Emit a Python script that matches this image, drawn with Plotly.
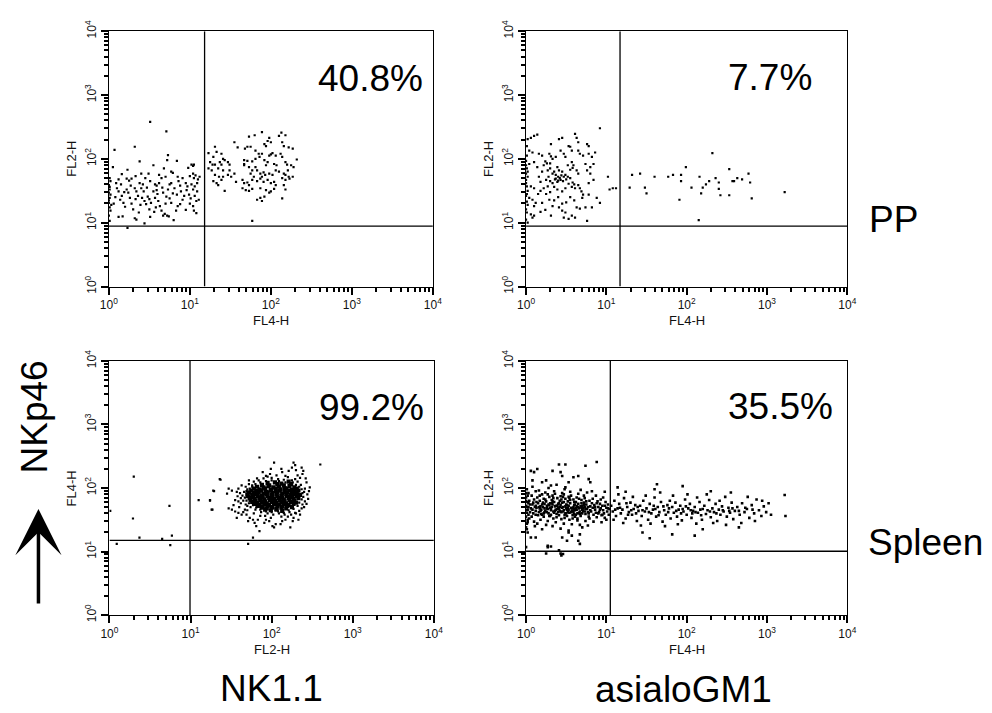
import plotly.graph_objects as go

FONT = "Liberation Sans, Arial, Helvetica, sans-serif"

# ---------------- text / tick data ----------------
tick_values = [1, 10, 100, 1000, 10000]
tick_labels = ["10<sup>0</sup>", "10<sup>1</sup>", "10<sup>2</sup>", "10<sup>3</sup>", "10<sup>4</sup>"]

x_titles = ["FL4-H", "FL4-H", "FL2-H", "FL4-H"]
y_titles = ["FL2-H", "FL2-H", "FL4-H", "FL2-H"]
percent_labels = ["40.8%", "7.7%", "99.2%", "35.5%"]
row_labels = ["PP", "Spleen"]
column_labels = ["NK1.1", "asialoGM1"]
side_label = "NKp46"

# quadrant gates (fluorescence units)
gate_x = [15.2, 14.8, 9.85, 11.2]
gate_y = [8.85, 8.85, 15.0, 10.1]

# ---------------- events, as (log10 x, log10 y) ----------------
pp_nk11_log = [
    (0.51, 2.58), (0.71, 2.43), (0.32, 2.19), (0.07, 2.14), (0.73, 2.06), (0.38, 1.96), (0.55, 1.90), (0.84, 1.97),
    (0.72, 1.98), (1.02, 1.91), (1.05, 1.91), (1.04, 1.89), (0.98, 1.86), (0.05, 1.87), (0.23, 1.83), (0.40, 1.77),
    (0.49, 1.77), (0.68, 1.85), (0.77, 1.80), (0.79, 1.78), (0.16, 1.76),
    (0.22, 1.69), (0.25, 1.66), (0.28, 1.69), (0.38, 1.62), (0.51, 1.65), (0.57, 1.60), (0.59, 1.58), (0.65, 1.70),
    (0.70, 1.72), (0.77, 1.62), (0.75, 1.60), (0.86, 1.65), (0.95, 1.62), (1.04, 1.77), (1.07, 1.74), (1.05, 1.70),
    (1.09, 1.62), (1.06, 1.57), (1.10, 1.68), (1.12, 1.72), (1.00, 1.73), (0.91, 1.70), (0.62, 1.75), (0.45, 1.70),
    (0.33, 1.73), (0.12, 1.68), (0.09, 1.62),
    (0.01, 1.70), (0.02, 1.65), (0.00, 1.59), (0.01, 1.52), (0.00, 1.47), (0.01, 1.39), (0.00, 1.31), (0.01, 1.24),
    (0.02, 1.19), (0.00, 1.11), (0.01, 1.03), (0.02, 1.44), (0.01, 1.56), (0.00, 1.35), (0.03, 1.28),
    (0.10, 1.54), (0.12, 1.49), (0.16, 1.42), (0.14, 1.36), (0.18, 1.31), (0.22, 1.52), (0.24, 1.47), (0.26, 1.39),
    (0.32, 1.54), (0.34, 1.49), (0.36, 1.42), (0.33, 1.37), (0.40, 1.54), (0.43, 1.49), (0.41, 1.39), (0.44, 1.34),
    (0.48, 1.41), (0.50, 1.37), (0.46, 1.29), (0.50, 1.21), (0.55, 1.49), (0.59, 1.51), (0.57, 1.39), (0.61, 1.34),
    (0.63, 1.26), (0.65, 1.19), (0.67, 1.11), (0.69, 1.14), (0.72, 1.11), (0.74, 1.10), (0.71, 1.41), (0.75, 1.38),
    (0.77, 1.31), (0.81, 1.54), (0.84, 1.44), (0.85, 1.26), (0.83, 1.19), (0.89, 1.49), (0.91, 1.36), (0.88, 1.29),
    (0.97, 1.57), (0.99, 1.44), (1.01, 1.38), (1.04, 1.52), (1.06, 1.42), (1.04, 1.26), (1.05, 1.19), (1.09, 1.49),
    (1.11, 1.36), (1.08, 1.34), (0.12, 1.09), (0.17, 1.10), (0.32, 1.07), (0.34, 1.05), (0.44, 0.99), (0.51, 1.09),
    (0.80, 1.04), (0.23, 0.92),
    (0.06, 1.30), (0.08, 1.40), (0.20, 1.25), (0.28, 1.30), (0.30, 1.21), (0.37, 1.16), (0.52, 1.31), (0.58, 1.24),
    (0.60, 1.45), (0.67, 1.47), (0.70, 1.30), (0.79, 1.46), (0.93, 1.42), (0.95, 1.20), (1.00, 1.30), (1.08, 1.15),
    (0.27, 1.58), (0.42, 1.60), (0.47, 1.55), (0.66, 1.55), (0.73, 1.52), (0.88, 1.58), (1.02, 1.60), (0.15, 1.60),
    (0.19, 1.48), (0.39, 1.28), (0.56, 1.17), (0.62, 1.62), (0.85, 1.72), (0.96, 1.51),
    # NK1.1+ events
    (1.89, 2.42), (1.80, 2.37), (1.73, 2.35), (2.13, 2.41), (2.18, 2.37), (2.10, 2.36), (1.98, 2.33), (1.96, 2.28),
    (2.00, 2.26), (1.92, 2.23), (1.94, 2.20), (1.55, 2.26), (1.59, 2.18), (1.31, 2.19), (1.71, 2.19), (1.68, 2.16),
    (1.75, 2.19), (2.14, 2.26), (2.16, 2.20), (2.22, 2.18), (2.27, 2.16), (2.32, 1.99), (1.23, 2.09), (1.33, 2.11),
    (1.39, 2.08), (1.29, 2.03), (1.41, 2.00), (1.81, 2.13), (1.85, 2.08), (1.89, 2.08), (1.86, 2.03), (1.98, 2.05),
    (2.00, 2.07), (2.02, 2.09), (2.06, 2.05), (2.12, 2.08), (2.14, 2.03), (1.67, 1.98), (1.71, 1.97), (1.77, 1.96),
    (1.81, 2.00), (1.92, 1.98), (1.96, 1.95), (1.94, 1.90), (2.04, 1.92), (2.07, 1.90), (2.18, 1.95), (2.20, 1.91),
    (2.25, 1.90), (2.28, 1.87), (1.25, 1.95), (1.28, 1.91), (1.31, 1.91), (1.37, 1.95), (1.39, 1.91), (1.43, 1.98),
    (1.47, 1.95), (1.49, 1.91), (1.23, 1.85), (1.27, 1.82), (1.35, 1.85), (1.41, 1.82), (1.67, 1.92), (1.67, 1.90),
    (1.73, 1.87), (1.77, 1.82), (1.75, 1.77), (1.81, 1.87), (1.83, 1.82), (1.87, 1.77), (1.91, 1.79), (1.89, 1.72),
    (1.93, 1.75), (1.98, 1.77), (2.02, 1.75), (2.06, 1.82), (2.10, 1.80), (2.16, 1.77), (2.18, 1.75), (2.21, 1.82),
    (2.22, 1.72), (2.27, 1.72), (1.31, 1.75), (1.36, 1.72), (1.41, 1.72), (1.47, 1.75), (1.49, 1.82), (1.55, 1.77),
    (1.51, 1.72), (1.29, 1.65), (1.33, 1.62), (1.39, 1.67), (1.35, 1.59), (1.57, 1.64), (1.65, 1.67), (1.67, 1.62),
    (1.71, 1.63), (1.73, 1.59), (1.79, 1.72), (1.77, 1.67), (1.83, 1.65), (1.87, 1.69), (1.91, 1.64), (1.96, 1.67),
    (2.00, 1.62), (2.04, 1.64), (2.06, 1.59), (2.14, 1.70), (2.18, 1.67), (2.23, 1.69), (1.65, 1.54), (1.69, 1.51),
    (1.73, 1.50), (1.77, 1.53), (1.87, 1.54), (1.94, 1.51), (2.00, 1.49), (2.04, 1.53), (2.16, 1.59), (2.18, 1.52),
    (1.43, 1.50), (1.98, 1.47), (1.92, 1.41), (1.87, 1.39), (1.83, 1.36), (1.89, 1.34), (2.14, 1.38), (1.77, 1.03),
]

pp_asialo_log = [
    (0.92, 2.48), (0.14, 2.38), (0.10, 2.36), (0.06, 2.33), (0.02, 2.31), (0.45, 2.33), (0.41, 2.31), (0.31, 2.23),
    (0.61, 2.39), (0.63, 2.33), (0.65, 2.26), (0.76, 2.23), (0.78, 2.20), (0.86, 2.10), (0.53, 2.20), (0.55, 2.19),
    (0.57, 2.13), (0.04, 2.13), (0.08, 2.10), (0.16, 2.08), (0.20, 2.05), (0.29, 2.08), (0.31, 2.04), (0.33, 2.00),
    (0.37, 2.03), (0.43, 2.13), (0.47, 2.08), (0.49, 2.03), (0.65, 2.13), (0.67, 2.08), (0.71, 2.05), (0.78, 2.08),
    (0.82, 2.03), (0.84, 1.92), (0.80, 1.87), (0.00, 1.97), (0.04, 1.92), (0.10, 1.95), (0.14, 1.87), (0.22, 1.90),
    (0.27, 1.82), (0.20, 1.80), (0.39, 1.87), (0.41, 1.82), (0.45, 1.80), (0.49, 1.75), (0.57, 1.95), (0.59, 1.90),
    (0.63, 1.82), (0.65, 1.77), (0.74, 1.92), (0.76, 1.82), (0.80, 1.77), (0.84, 1.67), (0.78, 1.62), (0.00, 1.77),
    (0.02, 1.72), (0.00, 1.67), (0.00, 1.62), (0.06, 1.57), (0.10, 1.54), (0.16, 1.72), (0.18, 1.64), (0.22, 1.54),
    (0.27, 1.57), (0.33, 1.77), (0.37, 1.69), (0.39, 1.64), (0.43, 1.67), (0.47, 1.72), (0.35, 1.56), (0.39, 1.52),
    (0.45, 1.49), (0.49, 1.54), (0.53, 1.61), (0.57, 1.56), (0.61, 1.54), (0.65, 1.59), (0.67, 1.54), (0.69, 1.49),
    (0.71, 1.44), (0.04, 1.39), (0.08, 1.36), (0.12, 1.31), (0.10, 1.26), (0.00, 1.21), (0.06, 1.13), (0.08, 1.08),
    (0.10, 1.11), (0.20, 1.31), (0.29, 1.36), (0.33, 1.26), (0.31, 1.11), (0.41, 1.24), (0.45, 1.19), (0.49, 1.16),
    (0.47, 1.08), (0.53, 1.06), (0.57, 1.11), (0.61, 1.08), (0.76, 1.03), (0.63, 1.24), (0.67, 1.22), (0.74, 1.24),
    (0.82, 1.24), (0.70, 1.39), (0.78, 1.44), (0.88, 1.39), (0.92, 1.31), (1.04, 1.52), (1.08, 1.54), (1.12, 1.54),
    (1.02, 1.72),
    (0.37, 1.75), (0.40, 1.72), (0.42, 1.70), (0.44, 1.74), (0.36, 1.68), (0.40, 1.66), (0.46, 1.65), (0.50, 1.68),
    (0.52, 1.72), (0.55, 1.70), (0.30, 1.65), (0.33, 1.62), (0.25, 1.67), (0.28, 1.72), (0.35, 1.80), (0.30, 1.85),
    (0.24, 1.96), (0.26, 1.93), (0.30, 1.93), (0.55, 1.83), (0.58, 1.86), (0.52, 1.90), (0.60, 1.60), (0.58, 1.63),
    (0.15, 1.45), (0.18, 1.50), (0.25, 1.45), (0.30, 1.48), (0.55, 1.40), (0.60, 1.35), (0.50, 1.32), (0.40, 1.40),
    (0.35, 1.35), (0.45, 1.30), (0.24, 1.20), (0.18, 1.17),
    (0.01, 2.05), (0.01, 1.85), (0.02, 1.80), (0.01, 1.57), (0.02, 1.50), (0.01, 1.45), (0.00, 1.42), (0.01, 1.33),
    (0.02, 1.28), (0.01, 1.16), (0.00, 1.05), (0.02, 1.00), (0.01, 2.20), (0.00, 1.90),
    # asialoGM1+ events
    (1.29, 1.55), (1.32, 1.75), (1.42, 1.77), (1.48, 1.55), (1.50, 1.46), (1.60, 1.72), (1.77, 1.72), (1.83, 1.75),
    (1.93, 1.75), (1.93, 1.65), (1.99, 1.87), (1.91, 1.36), (2.06, 1.55), (2.16, 1.72), (2.20, 1.55), (2.18, 1.46),
    (2.24, 1.60), (2.28, 1.65), (2.32, 2.09), (2.36, 1.70), (2.40, 1.63), (2.40, 1.53), (2.42, 1.43), (2.53, 1.84),
    (2.53, 1.43), (2.57, 1.65), (2.59, 1.65), (2.63, 1.70), (2.69, 1.68), (2.77, 1.77), (2.79, 1.63), (2.81, 1.38),
    (3.22, 1.48), (2.15, 1.04),
]

# dense NK1.1+ core of the spleen sample
spleen_nk11_core_log = [
    (1.95, 2.08), (2.04, 2.09), (2.12, 2.07), (2.21, 2.10),
    (1.88, 2.05), (1.97, 2.04), (2.07, 2.06), (2.15, 2.04), (2.24, 2.06),
    (1.82, 2.02), (1.90, 2.01), (1.96, 2.03), (2.02, 2.01), (2.09, 2.02), (2.16, 2.00), (2.22, 2.03), (2.28, 2.01),
    (1.78, 1.99), (1.85, 1.98), (1.92, 1.99), (1.99, 1.97), (2.05, 1.99), (2.11, 1.98), (2.18, 1.99), (2.25, 1.97), (2.31, 1.99),
    (1.75, 1.96), (1.81, 1.95), (1.87, 1.96), (1.93, 1.94), (1.99, 1.96), (2.05, 1.95), (2.10, 1.96), (2.16, 1.94),
    (2.22, 1.96), (2.28, 1.95), (2.33, 1.96),
    (1.72, 1.93), (1.78, 1.92), (1.84, 1.93), (1.90, 1.91), (1.95, 1.93), (2.01, 1.92), (2.07, 1.93), (2.13, 1.91),
    (2.19, 1.93), (2.25, 1.92), (2.31, 1.93),
    (1.70, 1.90), (1.76, 1.89), (1.82, 1.90), (1.88, 1.88), (1.94, 1.90), (2.00, 1.89), (2.06, 1.90), (2.12, 1.88),
    (2.18, 1.90), (2.24, 1.89), (2.30, 1.90), (2.35, 1.89),
    (1.71, 1.87), (1.77, 1.86), (1.83, 1.87), (1.89, 1.85), (1.95, 1.87), (2.01, 1.86), (2.07, 1.87), (2.13, 1.85),
    (2.19, 1.87), (2.25, 1.86), (2.31, 1.87),
    (1.73, 1.84), (1.79, 1.83), (1.85, 1.84), (1.91, 1.82), (1.97, 1.84), (2.03, 1.83), (2.09, 1.84), (2.15, 1.82),
    (2.21, 1.84), (2.27, 1.83), (2.33, 1.84),
    (1.74, 1.81), (1.80, 1.80), (1.86, 1.81), (1.92, 1.79), (1.98, 1.81), (2.04, 1.80), (2.10, 1.81), (2.16, 1.79),
    (2.22, 1.81), (2.28, 1.80),
    (1.76, 1.78), (1.82, 1.77), (1.88, 1.78), (1.94, 1.76), (2.00, 1.78), (2.06, 1.77), (2.12, 1.78), (2.18, 1.76),
    (2.24, 1.78), (2.30, 1.77),
    (1.79, 1.75), (1.85, 1.74), (1.91, 1.75), (1.97, 1.73), (2.03, 1.75), (2.09, 1.74), (2.15, 1.75), (2.21, 1.73), (2.27, 1.75),
    (1.83, 1.72), (1.89, 1.71), (1.95, 1.72), (2.01, 1.70), (2.07, 1.72), (2.13, 1.71), (2.19, 1.72), (2.25, 1.70),
    (1.88, 1.69), (1.94, 1.68), (2.00, 1.69), (2.06, 1.67), (2.12, 1.69), (2.18, 1.68),
    (1.92, 1.66), (1.99, 1.65), (2.06, 1.66), (2.13, 1.64),
]

spleen_nk11_log = [
    (2.03, 2.40), (2.27, 2.40), (2.29, 2.36), (2.25, 2.32), (2.37, 2.32), (2.39, 2.27), (1.99, 2.30), (1.93, 2.19),
    (1.89, 2.25), (2.13, 2.25), (2.17, 2.19), (2.21, 2.27), (2.43, 2.09), (2.41, 1.99), (2.47, 2.01), (2.39, 1.86),
    (2.41, 1.79), (2.37, 1.68), (1.36, 2.14), (1.28, 1.96), (1.47, 1.99), (1.51, 1.96), (1.45, 1.91), (1.57, 1.94),
    (1.59, 1.99), (1.63, 2.04), (1.55, 1.81), (1.59, 1.79), (1.53, 1.73), (1.47, 1.68), (1.51, 1.66), (1.55, 1.63),
    (1.59, 1.61), (1.63, 1.58), (1.57, 1.53), (1.67, 1.66), (1.69, 1.58), (1.73, 1.53), (1.71, 1.48), (1.77, 1.50),
    (1.79, 1.45), (1.83, 1.50), (1.81, 1.40), (1.91, 1.45), (1.93, 1.50), (1.97, 1.48), (2.03, 1.38), (2.01, 1.40),
    (2.05, 1.43), (2.11, 1.43), (2.13, 1.48), (2.17, 1.50), (2.23, 1.38), (2.27, 1.53), (2.33, 1.50), (2.29, 1.61),
    (2.35, 1.58), (1.85, 1.32), (1.26, 1.66), (1.24, 1.81),
    (1.68, 2.02), (1.72, 2.06), (1.78, 2.10), (1.84, 2.12), (1.90, 2.15), (2.00, 2.16), (2.08, 2.14), (2.15, 2.13),
    (2.25, 2.12), (2.32, 2.10), (2.36, 2.05), (2.40, 1.94), (2.38, 1.74), (2.34, 1.64), (2.30, 1.60), (2.22, 1.62),
    (2.16, 1.58), (2.09, 1.60), (2.02, 1.58), (1.95, 1.60), (1.87, 1.62), (1.80, 1.66), (1.74, 1.70), (1.68, 1.74),
    (1.65, 1.80), (1.64, 1.88), (1.66, 1.94), (1.62, 1.84), (1.70, 1.98), (2.44, 1.90), (2.45, 1.83), (2.42, 2.15),
    (2.32, 2.20), (1.98, 2.22), (2.06, 2.20), (1.76, 2.02), (1.60, 1.70), (1.65, 1.62), (2.20, 1.55), (1.86, 1.56),
    (1.99, 1.53), (2.26, 1.48),
    (1.70, 1.72), (1.69, 1.80), (1.67, 1.85), (1.69, 1.95), (1.73, 1.99), (1.76, 2.04), (1.80, 2.06), (1.86, 2.09),
    (1.93, 2.11), (2.00, 2.12), (2.09, 2.11), (2.17, 2.09), (2.26, 2.09), (2.30, 2.05), (2.34, 2.02), (2.37, 1.98),
    (2.38, 1.92), (2.37, 1.82), (2.34, 1.77), (2.32, 1.72), (2.27, 1.67), (2.21, 1.65), (2.15, 1.61), (2.08, 1.63),
    (2.00, 1.62), (1.93, 1.63), (1.86, 1.66), (1.81, 1.69), (1.77, 1.73), (1.72, 1.76), (2.29, 2.14), (2.35, 2.16),
    (2.20, 2.17), (1.95, 2.18), (1.82, 2.15), (1.72, 2.12), (1.61, 1.92), (1.58, 1.87), (1.62, 1.76), (1.70, 1.65),
    (1.78, 1.60), (1.92, 1.56), (2.12, 1.55), (2.24, 1.58), (2.40, 1.70), (2.43, 1.75), (2.46, 1.95), (2.38, 2.22),
    (2.12, 2.30), (2.30, 2.28),
    (0.01, 1.64), (0.09, 1.12), (0.30, 2.18), (0.29, 1.52), (0.37, 1.22), (0.65, 1.20), (0.74, 1.72), (0.77, 1.25),
    (0.75, 1.10), (1.71, 1.12), (1.77, 1.22), (1.85, 2.48), (1.10, 1.81), (1.24, 1.80), (1.27, 1.66), (1.37, 2.13),
    (1.29, 1.95), (2.60, 2.37),
]

spleen_asialo_log = [
    (0.88, 2.41), (0.41, 2.37), (0.49, 2.37), (0.14, 2.30), (0.06, 2.27), (0.10, 2.25), (0.33, 2.27), (0.43, 2.25),
    (0.45, 2.19), (0.74, 2.35), (0.59, 2.17), (0.65, 2.19), (0.78, 2.14), (0.80, 2.09), (0.20, 2.09), (0.25, 2.12),
    (0.31, 2.04), (0.08, 2.12), (0.53, 2.09), (0.49, 2.01), (0.98, 1.94), (1.14, 2.01), (1.24, 1.94),
    (0.27, 1.07), (0.31, 1.08), (0.41, 1.02), (0.44, 0.94), (0.46, 0.96), (0.25, 0.97), (0.43, 0.97), (0.00, 1.07),
    (0.06, 1.22), (0.12, 1.22), (0.27, 1.09), (0.45, 1.22), (0.51, 1.17), (0.53, 1.30), (0.57, 1.25), (0.67, 1.27),
    (0.65, 1.17), (0.67, 1.12),
    (0.00, 1.85), (0.01, 1.78), (0.00, 1.72), (0.02, 1.66), (0.01, 1.61), (0.00, 1.55), (0.02, 1.50), (0.01, 1.44),
    (0.00, 1.38), (0.03, 1.70), (0.04, 1.80), (0.05, 1.62), (0.03, 1.92), (0.01, 1.98), (0.02, 1.30), (0.04, 1.52),
    (0.07, 1.88), (0.08, 1.74), (0.06, 1.68), (0.09, 1.60), (0.10, 1.82), (0.11, 1.70), (0.12, 1.64), (0.07, 1.55),
    (0.10, 1.47), (0.12, 1.95), (0.08, 2.02), (0.11, 1.40), (0.09, 1.77), (0.12, 1.72),
    (0.14, 1.85), (0.15, 1.76), (0.13, 1.69), (0.16, 1.62), (0.17, 1.80), (0.18, 1.71), (0.19, 1.66), (0.15, 1.57),
    (0.18, 1.50), (0.20, 1.90), (0.16, 1.96), (0.14, 1.44), (0.20, 1.74), (0.19, 1.59), (0.17, 1.68), (0.13, 1.78),
    (0.20, 1.35),
    (0.22, 1.83), (0.23, 1.75), (0.21, 1.70), (0.24, 1.64), (0.25, 1.79), (0.26, 1.72), (0.27, 1.67), (0.28, 1.60),
    (0.22, 1.55), (0.29, 1.86), (0.30, 1.76), (0.24, 1.93), (0.27, 1.48), (0.30, 1.69), (0.23, 1.68), (0.26, 1.62),
    (0.29, 1.73), (0.28, 2.00), (0.25, 1.42), (0.30, 1.56),
    (0.32, 1.81), (0.33, 1.74), (0.31, 1.68), (0.34, 1.63), (0.35, 1.78), (0.36, 1.71), (0.37, 1.66), (0.38, 1.59),
    (0.33, 1.88), (0.39, 1.84), (0.40, 1.75), (0.34, 1.52), (0.37, 1.46), (0.40, 1.69), (0.32, 1.70), (0.36, 1.64),
    (0.39, 1.72), (0.35, 1.95), (0.38, 2.05), (0.31, 1.58), (0.40, 1.62), (0.33, 1.40),
    (0.42, 1.80), (0.43, 1.73), (0.41, 1.67), (0.44, 1.62), (0.45, 1.77), (0.46, 1.70), (0.47, 1.65), (0.48, 1.58),
    (0.43, 1.87), (0.49, 1.83), (0.50, 1.74), (0.44, 1.51), (0.47, 1.44), (0.50, 1.68), (0.42, 1.70), (0.46, 1.63),
    (0.49, 1.71), (0.45, 1.92), (0.48, 1.98), (0.41, 1.57), (0.50, 1.60), (0.43, 1.36), (0.47, 1.90),
    (0.52, 1.79), (0.53, 1.72), (0.51, 1.66), (0.54, 1.61), (0.55, 1.76), (0.56, 1.69), (0.57, 1.64), (0.58, 1.57),
    (0.53, 1.86), (0.59, 1.82), (0.60, 1.73), (0.54, 1.50), (0.57, 1.43), (0.60, 1.67), (0.52, 1.69), (0.56, 1.62),
    (0.59, 1.70), (0.55, 1.94), (0.58, 1.52), (0.51, 1.56), (0.60, 1.59), (0.53, 1.33),
    (0.62, 1.78), (0.63, 1.71), (0.61, 1.65), (0.64, 1.60), (0.65, 1.75), (0.66, 1.68), (0.67, 1.63), (0.68, 1.56),
    (0.63, 1.85), (0.69, 1.81), (0.70, 1.72), (0.64, 1.49), (0.67, 1.42), (0.70, 1.66), (0.62, 1.68), (0.66, 1.61),
    (0.69, 1.69), (0.65, 1.91), (0.68, 1.97), (0.61, 1.55), (0.70, 1.38),
    (0.72, 1.77), (0.73, 1.70), (0.71, 1.64), (0.74, 1.59), (0.75, 1.74), (0.76, 1.67), (0.77, 1.62), (0.78, 1.55),
    (0.73, 1.84), (0.79, 1.80), (0.80, 1.71), (0.74, 1.48), (0.77, 1.41), (0.80, 1.65), (0.72, 1.88), (0.76, 1.93),
    (0.79, 1.52),
    (0.82, 1.76), (0.83, 1.69), (0.81, 1.63), (0.84, 1.58), (0.85, 1.73), (0.86, 1.66), (0.87, 1.61), (0.88, 1.54),
    (0.83, 1.83), (0.89, 1.79), (0.90, 1.70), (0.84, 1.47), (0.87, 1.88), (0.90, 1.60), (0.82, 1.95),
    (0.92, 1.75), (0.93, 1.68), (0.91, 1.62), (0.94, 1.57), (0.95, 1.72), (0.96, 1.65), (0.97, 1.60), (0.98, 1.53),
    (0.93, 1.82), (0.99, 1.78), (1.00, 1.69), (0.94, 1.46), (1.01, 1.63), (1.02, 1.74), (1.03, 1.58), (1.04, 1.67),
    (0.96, 1.85), (1.00, 1.50),
    (0.16, 1.70), (0.18, 1.64), (0.21, 1.77), (0.23, 1.62), (0.26, 1.68), (0.28, 1.74), (0.31, 1.65), (0.33, 1.79),
    (0.35, 1.61), (0.37, 1.72), (0.39, 1.67), (0.41, 1.76), (0.43, 1.63), (0.45, 1.69), (0.47, 1.78), (0.49, 1.60),
    (0.51, 1.73), (0.53, 1.66), (0.55, 1.81), (0.57, 1.68), (0.59, 1.62), (0.61, 1.74), (0.63, 1.66), (0.65, 1.70),
    (0.67, 1.59), (0.69, 1.76), (0.71, 1.68), (0.73, 1.63), (0.75, 1.79), (0.77, 1.70), (0.20, 1.58), (0.24, 1.82),
    (0.29, 1.56), (0.34, 1.84), (0.38, 1.54), (0.44, 1.82), (0.48, 1.53), (0.54, 1.84), (0.58, 1.64), (0.62, 1.58),
    (0.66, 1.83), (0.70, 1.60), (0.74, 1.67), (0.17, 1.88), (0.27, 1.90), (0.36, 1.91), (0.46, 1.86), (0.56, 1.88),
    (0.64, 1.52), (0.72, 1.73), (0.12, 1.58), (0.08, 1.66), (0.05, 1.74), (0.03, 1.58), (0.02, 1.88), (0.00, 1.65),
    (0.01, 1.70), (0.00, 1.92), (0.02, 1.46), (0.01, 1.35), (0.00, 1.80), (0.03, 1.76), (0.22, 1.60), (0.32, 1.76),
    (0.42, 1.64), (0.52, 1.62), (0.60, 1.78), (0.68, 1.71), (0.78, 1.60), (0.86, 1.70), (0.92, 1.66), (0.98, 1.72),
    (0.88, 1.76), (0.95, 1.58), (1.02, 1.68),
    # asialoGM1+ events
    (1.06, 1.72), (1.08, 1.63), (1.10, 1.80), (1.12, 1.56), (1.14, 1.68), (1.16, 1.75), (1.18, 1.60), (1.20, 1.66),
    (1.22, 1.84), (1.24, 1.52), (1.26, 1.70), (1.28, 1.62), (1.30, 1.77), (1.32, 1.58), (1.34, 1.67), (1.36, 1.73),
    (1.38, 1.48), (1.40, 1.64), (1.09, 1.50), (1.15, 1.90), (1.21, 1.45), (1.27, 1.58), (1.33, 1.86), (1.39, 1.70),
    (1.11, 1.66), (1.17, 1.69), (1.25, 1.76), (1.31, 1.65), (1.37, 1.60),
    (1.42, 1.72), (1.44, 1.56), (1.46, 1.80), (1.48, 1.63), (1.50, 1.68), (1.52, 1.50), (1.54, 1.75), (1.56, 1.60),
    (1.58, 1.66), (1.60, 1.85), (1.62, 1.55), (1.64, 1.70), (1.66, 1.62), (1.68, 1.78), (1.70, 1.47), (1.72, 1.65),
    (1.74, 1.58), (1.76, 1.73), (1.78, 1.68), (1.80, 1.52), (1.43, 1.41), (1.49, 1.88), (1.55, 1.44), (1.61, 1.67),
    (1.67, 1.93), (1.73, 1.40), (1.79, 1.80), (1.45, 1.65), (1.53, 1.62), (1.59, 1.72), (1.65, 1.57), (1.71, 1.71),
    (1.77, 1.62),
    (1.82, 1.70), (1.84, 1.61), (1.86, 1.77), (1.88, 1.55), (1.90, 1.66), (1.92, 1.72), (1.94, 1.49), (1.96, 1.63),
    (1.98, 1.82), (2.00, 1.58), (2.02, 1.68), (2.04, 1.75), (2.06, 1.53), (2.08, 1.64), (2.10, 1.70), (2.12, 1.44),
    (2.14, 1.61), (2.16, 1.78), (2.18, 1.57), (2.20, 1.67), (1.83, 1.88), (1.89, 1.43), (1.95, 1.67), (2.01, 1.90),
    (2.07, 1.60), (2.13, 1.85), (2.19, 1.50), (1.87, 1.64), (1.93, 1.60), (1.99, 1.71), (2.05, 1.65), (2.11, 1.62),
    (2.17, 1.66),
    (2.22, 1.72), (2.24, 1.59), (2.26, 1.65), (2.28, 1.81), (2.30, 1.54), (2.32, 1.68), (2.34, 1.62), (2.36, 1.75),
    (2.38, 1.48), (2.40, 1.66), (2.42, 1.58), (2.44, 1.71), (2.46, 1.63), (2.48, 1.86), (2.50, 1.55), (2.52, 1.69),
    (2.54, 1.61), (2.56, 1.77), (2.58, 1.51), (2.60, 1.64), (2.25, 1.90), (2.33, 1.45), (2.41, 1.80), (2.49, 1.42),
    (2.57, 1.68), (2.29, 1.63), (2.37, 1.60), (2.45, 1.65), (2.53, 1.64),
    (2.63, 1.70), (2.66, 1.58), (2.69, 1.76), (2.72, 1.62), (2.75, 1.67), (2.78, 1.53), (2.81, 1.73), (2.84, 1.60),
    (2.87, 1.82), (2.90, 1.65), (2.93, 1.56), (2.96, 1.71), (2.99, 1.62), (3.02, 1.76), (3.05, 1.58), (2.68, 1.45),
    (2.76, 1.86), (2.85, 1.48), (2.94, 1.80), (2.65, 1.64), (2.73, 1.69), (2.82, 1.66),
    (1.63, 2.06), (1.95, 2.03), (3.22, 1.89), (3.23, 1.56), (1.54, 1.21), (1.82, 1.27), (2.10, 1.25), (1.60, 1.98),
    (2.30, 1.95), (2.55, 1.93), (1.45, 1.30), (2.20, 1.35), (2.65, 1.38),
]

panel_events = [pp_nk11_log, pp_asialo_log, spleen_nk11_log, spleen_asialo_log]
panel_dot_size = [2.2, 2.2, 2.2, 2.6]

# ---------------- layout geometry ----------------
W, H = 992, 713
x_domains = [[101.7 / W, 431.7 / W], [526.6 / W, 853.8 / W], [102.3 / W, 432.7 / W], [526.6 / W, 853.8 / W]]
y_domains = [[1 - 282.7 / H, 1 - 20.7 / H], [1 - 282.7 / H, 1 - 20.7 / H],
             [1 - 619.7 / H, 1 - 359.0 / H], [1 - 619.7 / H, 1 - 359.0 / H]]

fig = go.Figure()


def ax_ids(i):
    return ("x" if i == 0 else f"x{i+1}"), ("y" if i == 0 else f"y{i+1}")


for i, events in enumerate(panel_events):
    xa, ya = ax_ids(i)
    fig.add_trace(go.Scatter(
        x=[10 ** a for a, b in events], y=[10 ** b for a, b in events],
        mode="markers",
        marker=dict(symbol="square", size=panel_dot_size[i], color="black", line=dict(width=0)),
        xaxis=xa, yaxis=ya, hoverinfo="skip", showlegend=False))
    if i == 2:
        fig.add_trace(go.Scatter(
            x=[10 ** a for a, b in spleen_nk11_core_log], y=[10 ** b for a, b in spleen_nk11_core_log],
            mode="markers", marker=dict(symbol="square", size=4.2, color="black", line=dict(width=0)),
            xaxis=xa, yaxis=ya, hoverinfo="skip", showlegend=False))
    # quadrant gates
    fig.add_trace(go.Scatter(x=[gate_x[i], gate_x[i]], y=[tick_values[0], tick_values[-1]], mode="lines",
                             line=dict(color="black", width=1.3), xaxis=xa, yaxis=ya,
                             hoverinfo="skip", showlegend=False))
    fig.add_trace(go.Scatter(x=[tick_values[0], tick_values[-1]], y=[gate_y[i], gate_y[i]], mode="lines",
                             line=dict(color="black", width=1.3), xaxis=xa, yaxis=ya,
                             hoverinfo="skip", showlegend=False))

tick_font = dict(family=FONT, size=12, color="#111")


def make_axis(domain, anchor, is_y):
    d = dict(
        type="log", range=[0, 4], domain=domain, anchor=anchor,
        tickmode="array", tickvals=tick_values, ticktext=tick_labels,
        ticks="outside", ticklen=7, tickwidth=2, tickcolor="#000000",
        showline=True, linecolor="black", linewidth=1.3, mirror=True,
        gridcolor="white", tickfont=tick_font,
        minor=dict(dtick="D1", ticks="outside", ticklen=4, tickwidth=1.6, tickcolor="#000000"),
    )
    if is_y:
        d["tickangle"] = -90
    return d


layout_axes = {}
annotations = []
for i in range(4):
    xa, ya = ax_ids(i)
    xname = "xaxis" if i == 0 else f"xaxis{i+1}"
    yname = "yaxis" if i == 0 else f"yaxis{i+1}"
    layout_axes[xname] = make_axis(x_domains[i], ya, False)
    layout_axes[yname] = make_axis(y_domains[i], xa, True)
    annotations.append(dict(text=x_titles[i], xref=f"{xa} domain", yref=f"{ya} domain", x=0.5, y=0,
                            yshift=-34, xanchor="center", yanchor="middle", showarrow=False,
                            font=dict(family=FONT, size=13, color="#111")))
    annotations.append(dict(text=y_titles[i], xref=f"{xa} domain", yref=f"{ya} domain", x=0, y=0.5,
                            xshift=-37, xanchor="center", yanchor="middle", showarrow=False, textangle=-90,
                            font=dict(family=FONT, size=13, color="#111")))

big = dict(family=FONT, size=37, color="black")
pct_pos = [(368.3, 68.8), (775.0, 68.3), (369.7, 406.7), (786.0, 405.5)]
for (px, py), t in zip(pct_pos, percent_labels):
    annotations.append(dict(text=t, xref="paper", yref="paper", x=px / W, y=1 - py / H,
                            xanchor="center", yanchor="middle", showarrow=False, font=big))

annotations.append(dict(text=row_labels[0], xref="paper", yref="paper", x=874.0 / W, y=1 - 214 / H,
                        xanchor="left", yanchor="middle", showarrow=False, font=big))
annotations.append(dict(text=row_labels[1], xref="paper", yref="paper", x=873.0 / W, y=1 - 545 / H,
                        xanchor="left", yanchor="middle", showarrow=False, font=big))
annotations.append(dict(text=column_labels[0], xref="paper", yref="paper", x=267.5 / W, y=1 - 695 / H,
                        xanchor="center", yanchor="middle", showarrow=False, font=big))
annotations.append(dict(text=column_labels[1], xref="paper", yref="paper", x=686.5 / W, y=1 - 696 / H,
                        xanchor="center", yanchor="middle", showarrow=False, font=big))
annotations.append(dict(text=side_label, xref="paper", yref="paper", x=26 / W, y=1 - 416.5 / H,
                        xanchor="center", yanchor="middle", showarrow=False, textangle=-90, font=big))
# upward arrow next to the NKp46 label
annotations.append(dict(text="", xref="paper", yref="paper", x=30 / W, y=1 - 511 / H, ax=0, ay=96,
                        showarrow=True, arrowhead=3, arrowsize=2.2, arrowwidth=3.5, arrowcolor="black",
                        standoff=0, startstandoff=0))

fig.update_layout(
    width=W, height=H, autosize=False,
    margin=dict(l=0, r=0, t=0, b=0),
    paper_bgcolor="white", plot_bgcolor="white",
    showlegend=False,
    annotations=annotations,
    **layout_axes,
)

fig.write_html("out.html")
